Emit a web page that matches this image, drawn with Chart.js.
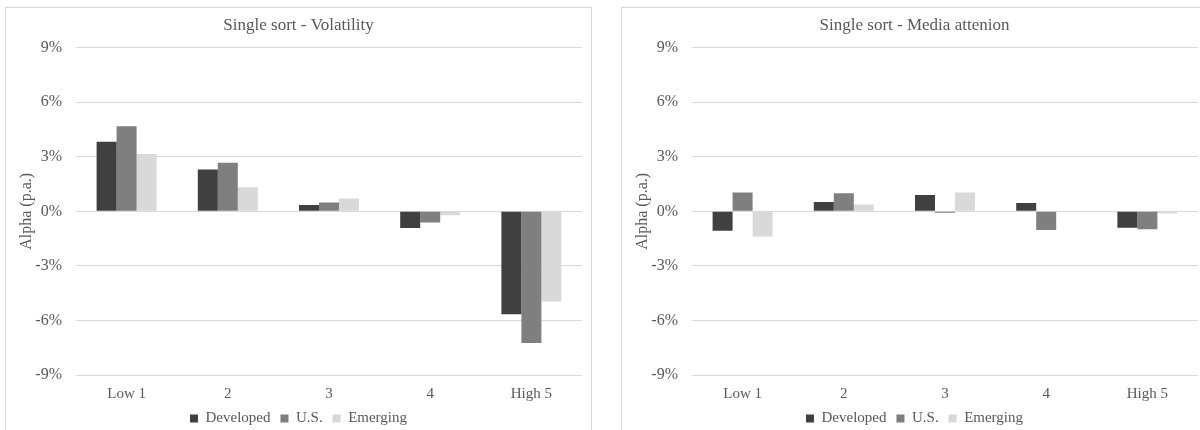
<!DOCTYPE html>
<html>
<head>
<meta charset="utf-8">
<script src="https://cdn.jsdelivr.net/npm/chart.js@4.4.1/dist/chart.umd.min.js"></script>
<style>
  html, body { margin: 0; padding: 0; background: #ffffff; overflow: hidden; width: 1200px; height: 430px; }
  .box { position: absolute; top: 7px; width: 585px; height: 428px; border: 1px solid #d9d9d9; background: #fff; }
  #boxL { left: 5px; }
  #boxR { left: 621px; }
  canvas { display: block; }
</style>
</head>
<body>
<div class="box" id="boxL"><canvas id="chartL" width="585" height="428"></canvas></div>
<div class="box" id="boxR"><canvas id="chartR" width="585" height="428"></canvas></div>
<script>
const categories = ['Low 1', '2', '3', '4', 'High 5'];
const seriesNames = ['Developed', 'U.S.', 'Emerging'];
const seriesColors = ['#404040', '#7f7f7f', '#d9d9d9'];

const volDeveloped = [3.83, 2.30, 0.35, -0.92, -5.66];
const volUS        = [4.68, 2.67, 0.48, -0.61, -7.24];
const volEmerging  = [3.15, 1.33, 0.70, -0.22, -4.96];

const mediaDeveloped = [-1.07, 0.52, 0.90, 0.46, -0.90];
const mediaUS        = [1.03, 0.99, -0.08, -1.03, -0.99];
const mediaEmerging  = [-1.38, 0.37, 1.03, 0.03, -0.12];

const yTicks = [-9, -6, -3, 0, 3, 6, 9];

const FONT = '"Liberation Serif", "Times New Roman", serif';
const TEXT = '#595959';
Chart.defaults.color = TEXT;
Chart.defaults.font.family = FONT;

function makeChart(id, title, seriesData) {
  const datasets = seriesData.map((d, i) => ({
    label: seriesNames[i],
    data: d,
    backgroundColor: seriesColors[i],
    borderWidth: 0,
    barPercentage: 1.0,
    categoryPercentage: 0.593
  }));
  return new Chart(document.getElementById(id), {
    type: 'bar',
    data: { labels: categories, datasets },
    options: {
      responsive: false,
      animation: false,
      devicePixelRatio: 1,
      layout: { padding: 0 },
      plugins: {
        tooltip: { enabled: false },
        title: {
          display: true,
          text: title,
          color: TEXT,
          font: { family: FONT, size: 17, weight: 'normal' },
          padding: { top: 7.8, bottom: 11.5 }
        },
        legend: {
          display: true,
          position: 'bottom',
          labels: {
            boxWidth: 8,
            boxHeight: 8,
            padding: 10,
            color: TEXT,
            font: { family: FONT, size: 15 }
          }
        }
      },
      scales: {
        x: {
          grid: { display: false, drawTicks: false },
          border: { display: false },
          ticks: { color: TEXT, font: { family: FONT, size: 15 }, padding: 10, maxRotation: 0 },
          afterFit: s => { s.height = 26; }
        },
        y: {
          min: -9, max: 9,
          afterBuildTicks: s => { s.ticks = yTicks.map(v => ({ value: v })); },
          grid: { color: '#d9d9d9', lineWidth: 1, drawTicks: false },
          border: { display: false },
          ticks: { color: TEXT, font: { family: FONT, size: 16 }, padding: 14, callback: v => v + '%' },
          title: {
            display: true,
            text: 'Alpha (p.a.)',
            color: TEXT,
            font: { family: FONT, size: 16 },
            padding: { top: 11.4, bottom: 0 }
          },
          afterFit: s => { s.width = 70; }
        },
        yR: {
          position: 'right',
          display: true,
          grid: { display: false, drawTicks: false },
          border: { display: false },
          ticks: { display: false },
          afterFit: s => { s.width = 9; }
        }
      }
    }
  });
}

makeChart('chartL', 'Single sort - Volatility', [volDeveloped, volUS, volEmerging]);
makeChart('chartR', 'Single sort - Media attenion', [mediaDeveloped, mediaUS, mediaEmerging]);
</script>
</body>
</html>
